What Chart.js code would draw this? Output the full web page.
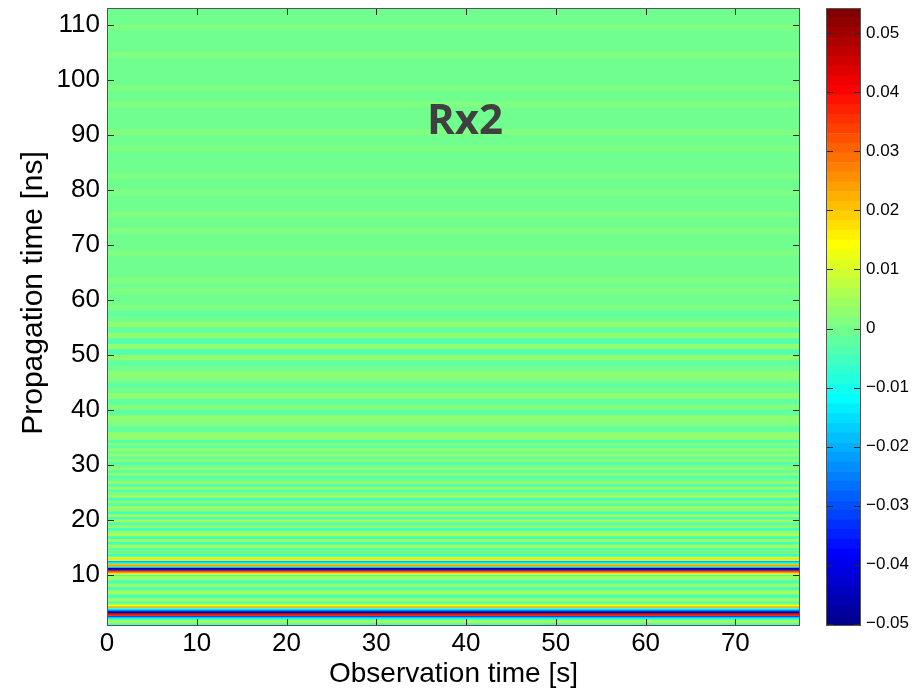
<!DOCTYPE html>
<html>
<head>
<meta charset="utf-8">
<script src="https://cdn.jsdelivr.net/npm/chart.js@4.4.1/dist/chart.umd.min.js"></script>
<style>
  body { margin: 0; background: #fff; width: 922px; height: 693px; position: relative; overflow: hidden; }
  #main { position: absolute; left: 0; top: 0; }
  #cbar { position: absolute; left: 800px; top: 0; }
  #rx { position: absolute; left: 427px; top: 97px; font: bold 42px "Open Sans", sans-serif; line-height: 42px; color: #404040; }
</style>
</head>
<body>
<canvas id="main" width="922" height="693"></canvas>
<canvas id="cbar" width="122" height="693"></canvas>
<div id="rx">Rx2</div>
<script>
// axis ranges / ticks
const obsTimeMax = 77.2
const propMin = 0.73, propMax = 113.1
const xTicks = [0, 10, 20, 30, 40, 50, 60, 70]
const yTicks = [10, 20, 30, 40, 50, 60, 70, 80, 90, 100, 110]
const cbarTicks = [-0.05, -0.04, -0.03, -0.02, -0.01, 0, 0.01, 0.02, 0.03, 0.04, 0.05]
const cMin = -0.0504, cMax = 0.0543

// amplitude vs propagation time (same for every observation time)
// 0.75 - 15 ns, 0.25 ns bins
const ampFine = [
  -0.005, -0.002, 0.006, 0.004, -0.004, -0.014, -0.030, 0.036, 0.046, -0.046,
  -0.034, -0.016, -0.004, 0.022, 0.014, 0.004, -0.006, 0.001, 0.005, 0.002,
  -0.004, -0.006, 0.000, 0.004, 0.006, 0.001, -0.005, -0.003, 0.003, 0.005,
  0.000, -0.006, -0.004, 0.002, 0.005, 0.002, -0.005, 0.012, 0.026, 0.032,
  -0.040, -0.046, -0.010, 0.024, 0.020, -0.012, -0.020, 0.008, 0.018, 0.010,
  -0.004, -0.007, 0.004, -0.005, 0.003, -0.006, 0.003
]
// 15 - 35 ns, 0.5 ns bins
const ampMid = [
  0.005, -0.006, 0.004, -0.005, 0.006, 0.002, -0.006, 0.003, -0.004, 0.005,
  -0.003, 0.004, -0.005, 0.002, 0.005, -0.004, 0.003, -0.005, 0.004, 0.001,
  -0.004, 0.004, -0.003, 0.003, 0.000, -0.003, 0.003, -0.002, 0.002, 0.000,
  -0.003, 0.003, -0.002, 0.002, -0.001, 0.003, -0.002, 0.001, -0.003, 0.002
]
// 35 - 114 ns, 1 ns bins
const ampCoarse = [
  0.002, -0.002, 0.001, 0.002, -0.002, 0.001, -0.002, 0.002, 0.000, -0.002,
  0.001, 0.002, 0.000, -0.002, 0.003, -0.003, 0.002, -0.003, 0.003, -0.002,
  0.002, 0.000, -0.002, 0.001, 0.000, -0.001, 0.001, 0.000, 0.001, -0.001,
  0.000, 0.000, -0.001, 0.001, 0.000, 0.000, -0.001, 0.001, 0.000, 0.000,
  0.001, -0.001, 0.000, 0.000, 0.001, 0.000, 0.000, 0.001, -0.001, 0.000,
  0.000, -0.001, 0.001, 0.000, 0.000, 0.001, 0.000, 0.000, -0.001, 0.000,
  0.001, 0.000, 0.000, 0.001, 0.000, -0.001, 0.000, 0.000, 0.000, 0.001,
  0.000, 0.000, -0.001, 0.000, 0.001, 0.000, 0.000, 0.000, 0.000
]

// MATLAB jet(64)
function jet(v) {
  let k = Math.floor((v - cMin) / (cMax - cMin) * 64) + 1
  k = Math.max(1, Math.min(64, k))
  const u = j => (j < 1 || j > 47) ? 0 : j <= 16 ? j / 16 : j <= 31 ? 1 : (48 - j) / 16
  const c = f => Math.round(255 * f)
  return `rgb(${c(u(k - 24))},${c(u(k - 8))},${c(u(k + 8))})`
}

// rows: [lo, hi] in ns with amplitude
const rows = []
function addRows(start, step, vals) {
  vals.forEach((v, i) => rows.push({ lo: start + i * step, hi: start + (i + 1) * step, v }))
}
addRows(0.75, 0.25, ampFine)
addRows(15, 0.5, ampMid)
addRows(35, 1, ampCoarse)

const fontFam = '"Liberation Sans", Arial, sans-serif'

// inward ticks + frame, MATLAB style
const frameTicks = {
  id: 'frameTicks',
  beforeDatasetsDraw(chart) {
    const { ctx, chartArea: a } = chart
    if (chart.options.plugins.frameTicks.bg) {
      ctx.save()
      ctx.fillStyle = jet(0)
      ctx.fillRect(a.left, a.top, a.right - a.left, a.bottom - a.top)
      ctx.restore()
    }
  },
  afterDatasetsDraw(chart) {
    const { ctx, chartArea: a } = chart
    const o = chart.options.plugins.frameTicks
    ctx.save()
    ctx.strokeStyle = '#262626'
    ctx.lineWidth = 1
    ctx.beginPath()
    o.axes.forEach(id => {
      const s = chart.scales[id]
      s.ticks.forEach(t => {
        const p = Math.round(s.getPixelForValue(t.value)) + 0.5
        if (s.isHorizontal()) {
          ctx.moveTo(p, a.bottom); ctx.lineTo(p, a.bottom - o.len)
          ctx.moveTo(p, a.top); ctx.lineTo(p, a.top + o.len)
        } else {
          ctx.moveTo(a.left, p); ctx.lineTo(a.left + o.len, p)
          ctx.moveTo(a.right, p); ctx.lineTo(a.right - o.len, p)
        }
      })
    })
    ctx.stroke()
    ctx.strokeStyle = '#555'
    ctx.strokeRect(Math.round(a.left) + 0.5, Math.round(a.top) + 0.5,
      Math.round(a.right - a.left) - 1, Math.round(a.bottom - a.top) - 1)
    // y axis title (sits a bit above the axis centre in the original)
    if (o.yTitle) {
      ctx.translate(34, 293)
      ctx.rotate(-Math.PI / 2)
      ctx.fillStyle = '#000'
      ctx.font = '30px ' + fontFam
      ctx.textAlign = 'center'
      ctx.textBaseline = 'middle'
      ctx.fillText(o.yTitle, 0, 0)
    }
    ctx.restore()
  }
}

const setTicks = arr => s => { s.ticks = arr.map(v => ({ value: v })) }
const fixSize = (w, h) => s => {
  if (w) s.width = w
  if (h) s.height = h
  s.paddingTop = 0; s.paddingBottom = 0; s.paddingLeft = 0; s.paddingRight = 0
}

new Chart(document.getElementById('main'), {
  type: 'bar',
  data: {
    labels: ['all'],
    datasets: rows.map(r => ({
      data: [[r.lo, r.hi]],
      backgroundColor: jet(r.v),
      borderWidth: 0,
      grouped: false,
      barPercentage: 1,
      categoryPercentage: 1
    }))
  },
  options: {
    responsive: false,
    animation: false,
    events: [],
    layout: { padding: { left: 0, right: 122, top: 8, bottom: 0 } },
    plugins: {
      legend: { display: false },
      tooltip: { enabled: false },
      frameTicks: { axes: ['x2', 'y'], len: 7, bg: true, yTitle: 'Propagation time [ns]' }
    },
    scales: {
      x: { display: false },
      x2: {
        type: 'linear', position: 'bottom', min: 0, max: obsTimeMax, offset: false,
        afterBuildTicks: setTicks(xTicks),
        afterFit: fixSize(0, 67),
        grid: { display: false, drawTicks: false, offset: false },
        border: { display: false },
        ticks: { autoSkip: false, maxRotation: 0, padding: 2, color: '#000', font: { family: fontFam, size: 26 } },
        title: { display: true, text: 'Observation time [s]', color: '#000', padding: { top: 0, bottom: 2 }, font: { family: fontFam, size: 28 } }
      },
      y: {
        type: 'linear', min: propMin, max: propMax,
        afterBuildTicks: setTicks(yTicks),
        afterFit: fixSize(107, 0),
        grid: { display: false, drawTicks: false },
        border: { display: false },
        ticks: { padding: 7, color: '#000', font: { family: fontFam, size: 26 } }
      }
    }
  },
  plugins: [frameTicks]
})

// colorbar
const cbSteps = []
for (let i = 0; i < 64; i++) {
  const lo = cMin + i * (cMax - cMin) / 64
  cbSteps.push([lo, lo + (cMax - cMin) / 64])
}

new Chart(document.getElementById('cbar'), {
  type: 'bar',
  data: {
    labels: ['c'],
    datasets: cbSteps.map(r => ({
      data: [r],
      backgroundColor: jet((r[0] + r[1]) / 2),
      borderWidth: 0,
      grouped: false,
      barPercentage: 1,
      categoryPercentage: 1
    }))
  },
  options: {
    responsive: false,
    animation: false,
    events: [],
    layout: { padding: { left: 26, right: 0, top: 8, bottom: 67 } },
    plugins: {
      legend: { display: false },
      tooltip: { enabled: false },
      frameTicks: { axes: ['y'], len: 7, bg: false }
    },
    scales: {
      x: { display: false },
      y: {
        type: 'linear', position: 'right', min: cMin, max: cMax,
        afterBuildTicks: setTicks(cbarTicks),
        afterFit: fixSize(61, 0),
        grid: { display: false, drawTicks: false },
        border: { display: false },
        ticks: {
          padding: 5, color: '#000', font: { family: fontFam, size: 17 },
          callback: v => v < 0 ? '\u2212' + (-v).toFixed(2) : v === 0 ? '0' : v.toFixed(2)
        }
      }
    }
  },
  plugins: [frameTicks]
})
</script>
</body>
</html>
